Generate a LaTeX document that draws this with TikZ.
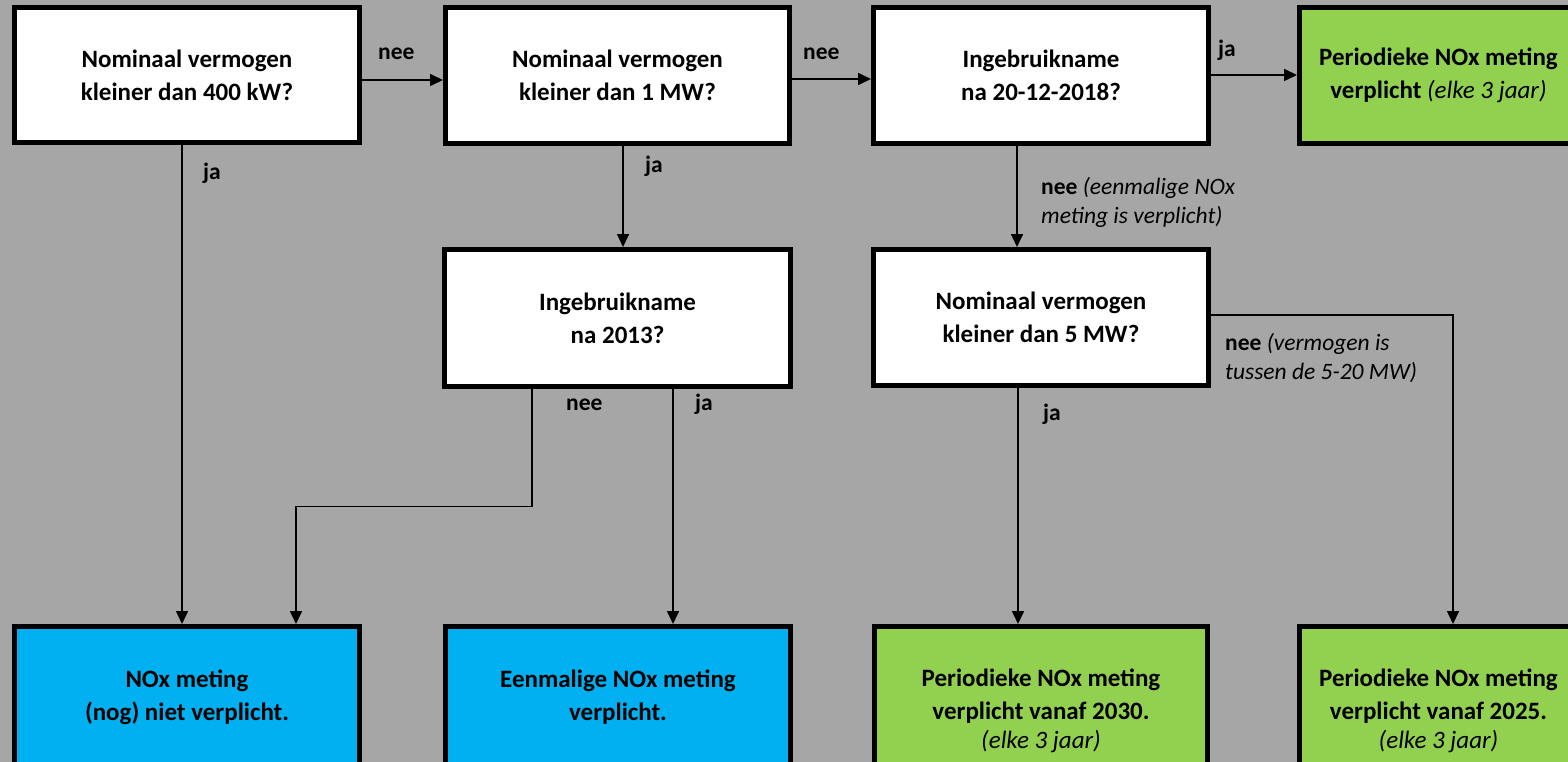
\documentclass[tikz,border=0pt]{standalone}
\usepackage{fontspec}
\setmainfont{Carlito}
\usetikzlibrary{arrows.meta,calc}
\definecolor{bgcol}{HTML}{A6A6A6}
\definecolor{okgreen}{HTML}{92D050}
\definecolor{okblue}{HTML}{00B0F0}
\begin{document}
\begin{tikzpicture}[x=1pt,y=-1pt,
  box/.style={draw=black, line width=5pt, fill=white, align=center,
    font=\fontsize{25}{33}\selectfont\bfseries, inner sep=0pt},
  bluebox/.style={box, fill=okblue},
  greenbox/.style={box, fill=okgreen},
  arr/.style={draw=black, line width=1.6pt, -{Triangle[length=13pt,width=12pt]}},
  lbl/.style={anchor=base west, inner sep=0pt, align=left,
    font=\fontsize{23.5}{28.5}\selectfont}
]
\useasboundingbox (0,0) rectangle (1568,762);
\clip (0,0) rectangle (1568,762);
\fill[bgcol] (0,0) rectangle (1568,762);

% top row
\node[box, minimum width=345pt, minimum height=135pt] (b1) at (187,75)
  {Nominaal vermogen\\kleiner dan 400 kW?};
\node[box, minimum width=344pt, minimum height=136pt] (b2) at (617.5,75.5)
  {Nominaal vermogen\\kleiner dan 1 MW?};
\node[box, minimum width=335pt, minimum height=136pt] (b3) at (1041,75.5)
  {Ingebruikname\\na 20-12-2018?};
\node[greenbox, minimum width=278pt, minimum height=136pt] (b4) at (1438.5,75.5)
  {Periodieke NOx meting\\verplicht \textmd{\itshape(elke 3 jaar)}};

% middle row
\node[box, minimum width=346pt, minimum height=137pt] (b5) at (617.5,318)
  {Ingebruikname\\na 2013?};
\node[box, minimum width=335pt, minimum height=136pt] (b6) at (1041,317.5)
  {Nominaal vermogen\\kleiner dan 5 MW?};

% bottom row
\node[bluebox, minimum width=345pt, minimum height=141pt] (b7) at (187,697)
  {NOx meting\\(nog) niet verplicht.};
\node[bluebox, minimum width=345pt, minimum height=141pt] (b8) at (618,697)
  {Eenmalige NOx meting\\verplicht.};
\node[greenbox, minimum width=333pt, minimum height=169pt] (b9) at (1041,711)
  {Periodieke NOx meting\\verplicht vanaf 2030.\\[-4pt]\textmd{\itshape(elke 3 jaar)}};
\node[greenbox, minimum width=278pt, minimum height=169pt] (b10) at (1438.5,711)
  {Periodieke NOx meting\\verplicht vanaf 2025.\\[-4pt]\textmd{\itshape(elke 3 jaar)}};

% connectors
\draw[arr] ($(b1.east)+(0,5)$) -- ($(b2.west)+(0,4.5)$);
\draw[arr] ($(b2.east)+(0,3.5)$) -- ($(b3.west)+(0,3.5)$);
\draw[arr] ($(b3.east)+(0,-0.5)$) -- ($(b4.west)+(0,-0.5)$);
\draw[arr] ($(b1.south)+(-5,0)$) -- ($(b7.north)+(-5,0)$);
\draw[arr] ($(b2.south)+(5.5,0)$) -- ($(b5.north)+(5.5,0)$);
\draw[arr] ($(b3.south)+(-24,0)$) -- ($(b6.north)+(-24,0)$);
\draw[arr] ($(b5.south)+(-85.5,0)$) -- ++(0,117.5) -| ($(b7.north)+(109,0)$);
\draw[arr] ($(b5.south)+(55.5,0)$) -- ($(b8.north)+(55,0)$);
\draw[arr] ($(b6.south)+(-23,0)$) -- ($(b9.north)+(-23,0)$);
\draw[arr] ($(b6.east)+(0,-2.5)$) -| ($(b10.north)+(14.5,0)$);

% labels
\node[lbl] (l1) at (378,60) {\bfseries nee};
\node[lbl] (l2) at (803,60) {\bfseries nee};
\node[lbl] (l3) at (1218,57) {\bfseries ja};
\node[lbl] (l4) at (203,180) {\bfseries ja};
\node[lbl] (l5) at (645,173) {\bfseries ja};
\node[lbl] (l6) at (1041,223) {\textbf{nee} \itshape(eenmalige NOx\\\itshape meting is verplicht)};
\node[lbl] (l7) at (566,410) {\bfseries nee};
\node[lbl] (l8) at (695,410) {\bfseries ja};
\node[lbl] (l9) at (1043,420) {\bfseries ja};
\node[lbl] (l10) at (1225,379) {\textbf{nee} \itshape(vermogen is\\\itshape tussen de 5-20 MW)};
\end{tikzpicture}
\end{document}
